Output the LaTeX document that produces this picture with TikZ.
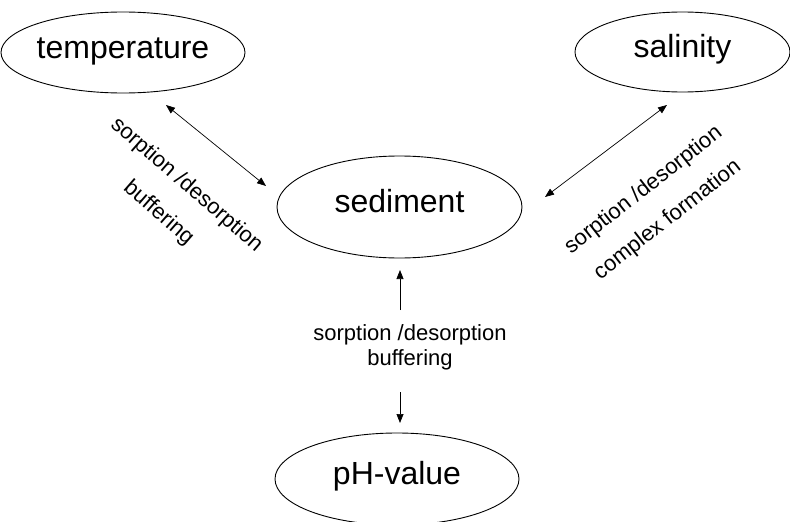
\documentclass[tikz,border=0pt]{standalone}
\usepackage{fontspec}
\setmainfont{Liberation Sans}
\usetikzlibrary{shapes.geometric,arrows.meta}

\begin{document}
\begin{tikzpicture}[x=1pt,y=-1pt,
  factor/.style={draw,ellipse,line width=0.9pt,inner sep=0pt,
    font=\fontsize{32}{38}\selectfont,text height=17pt,text depth=6pt},
  note/.style={inner sep=0pt,font=\fontsize{22}{26}\selectfont,
    text height=11pt,text depth=4pt},
  link/.style={line width=0.7pt,{Triangle[length=9pt,width=7pt]}-{Triangle[length=9pt,width=7pt]}},
  oneway/.style={line width=0.7pt,-{Triangle[length=9pt,width=7pt]}}]
\useasboundingbox (0,0) rectangle (790,522);

% the four ellipses
\node[factor,minimum width=226pt,minimum height=81pt] (temp) at (123,52.5) {temperature};
\node[factor,minimum width=215pt,minimum height=80pt] (sal) at (682.5,52) {salinity};
\node[factor,minimum width=245pt,minimum height=102pt] (sed) at (399.5,207) {sediment};
\node[factor,minimum width=244pt,minimum height=92pt] (ph) at (397,479) {pH-value};

% arrow ends
\coordinate (tA) at (166,105);
\coordinate (tB) at (266,186);
\coordinate (sA) at (667,105);
\coordinate (sB) at (545,197);
\coordinate (pUa) at (400,310);
\coordinate (pUb) at (400,270);
\coordinate (pDa) at (400,392);
\coordinate (pDb) at (400,423);

\draw[link] (tA) -- (tB);
\draw[link] (sA) -- (sB);
\draw[oneway] (pUa) -- (pUb);
\draw[oneway] (pDa) -- (pDb);

% labels on the connectors
\node[note,rotate=-41] (tl1) at (185,187) {sorption /desorption};
\node[note,rotate=-41] (tl2) at (157,215) {buffering};
\node[note,rotate=38] (sl1) at (645,192) {sorption /desorption};
\node[note,rotate=38] (sl2) at (669,222) {complex formation};
\node[note] (pl1) at (410,337) {sorption /desorption};
\node[note] (pl2) at (410,362) {buffering};
\end{tikzpicture}
\end{document}
